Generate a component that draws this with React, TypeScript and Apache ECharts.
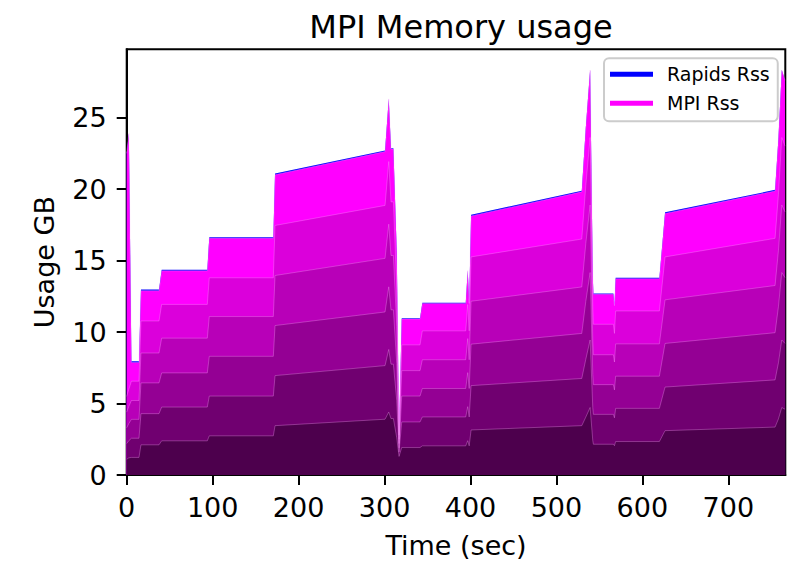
import React, { useEffect, useRef } from "react";
import * as echarts from "echarts";

// Time (sec) of each sample
const time = [
  0, 2.5, 5.5, 14.3, 16.6, 37.6, 40.7, 93.8, 96.1, 170.6, 172.6, 300.6, 304.9, 307.5, 310.3, 314.2,
  316.9, 320.0, 341.3, 344.0, 394.5, 396.8, 398.5, 400.7, 529.5, 534.2, 539.2, 542.3, 543.0, 566.3,
  567.5, 568.9, 619.8, 626.4, 754.4, 758.3, 762.2, 766,
];

// MPI Rss per rank (GB), stacked bottom to top
const mpiRank0 = [
  1.1, 1.2, 1.23, 1.23, 2.11, 2.11, 2.39, 2.39, 2.74, 2.74, 3.45, 3.9, 4.4, 3.95, 3.95, 2.6,
  1.3, 1.92, 1.92, 2.04, 2.04, 2.4, 2.04, 3.15, 3.45, 4.05, 4.72, 2.4, 2.15, 2.15,
  2.05, 2.34, 2.34, 3.1, 3.35, 3.92, 4.72, 4.6,
];
const mpiRank1 = [
  1.1, 1.2, 1.34, 1.34, 2.18, 2.18, 2.36, 2.36, 2.78, 2.78, 3.5, 3.75, 4.38, 3.8, 3.8, 2.6,
  0.3, 1.79, 1.79, 2.02, 2.02, 2.38, 2.02, 3.1, 3.3, 4.05, 4.72, 2.3, 2.09, 2.09,
  1.95, 2.32, 2.32, 3.05, 3.3, 3.92, 4.72, 4.6,
];
const mpiRank2 = [
  1.1, 1.2, 1.32, 1.32, 2.15, 2.15, 2.39, 2.39, 2.78, 2.78, 3.5, 3.75, 4.38, 3.8, 3.8, 2.6,
  0.3, 1.81, 1.81, 1.99, 1.99, 2.38, 1.99, 2.9, 3.15, 4.05, 4.72, 2.3, 2.08, 2.08,
  1.95, 2.25, 2.25, 3.05, 3.3, 3.92, 4.72, 4.6,
];
const mpiRank3 = [
  1.1, 1.2, 1.32, 1.32, 2.09, 2.09, 2.43, 2.43, 2.78, 2.78, 3.5, 3.75, 4.38, 3.8, 3.8, 2.6,
  0.3, 1.78, 1.78, 2.01, 2.01, 2.38, 2.01, 3.0, 3.25, 4.05, 4.72, 2.3, 2.09, 2.09,
  1.95, 2.26, 2.26, 3.05, 3.3, 3.92, 4.72, 4.6,
];
const mpiRank4 = [
  1.1, 1.2, 1.35, 1.35, 2.24, 2.24, 2.36, 2.36, 2.71, 2.71, 3.5, 3.7, 4.38, 3.75, 3.75, 2.6,
  0.3, 1.8, 1.8, 2.02, 2.02, 2.38, 2.02, 3.1, 3.35, 4.05, 4.72, 2.3, 2.13, 2.13,
  2.0, 2.3, 2.3, 3.0, 3.3, 3.92, 4.72, 4.6,
];
const mpiRank5 = [
  17.0, 17.9, 1.31, 1.31, 2.12, 2.12, 2.35, 2.35, 2.76, 2.76, 3.55, 3.77, 4.38, 3.7, 3.7, 2.6,
  0.3, 1.81, 1.81, 1.92, 1.92, 2.38, 1.92, 2.87, 3.3, 4.05, 4.72, 2.3, 2.1, 2.1,
  1.95, 2.26, 2.26, 3.04, 3.31, 3.92, 4.72, 4.6,
];
// Rapids Rss (GB), stacked on top
const rapidsRss = [
  0, 0, 0.08, 0.08, 0.08, 0.08, 0.08, 0.08, 0.08, 0.08, 0.08, 0.08, 0, 0.05, 0.05, 0,
  0, 0.05, 0.05, 0.05, 0.05, 0, 0.05, 0.08, 0.08, 0, 0, 0, 0.06, 0.06,
  0.05, 0.06, 0.06, 0.08, 0.08, 0, 0, 0,
];

const xTicks = [0, 100, 200, 300, 400, 500, 600, 700];
const yTicks = [0, 5, 10, 15, 20, 25];

const layers = [mpiRank0, mpiRank1, mpiRank2, mpiRank3, mpiRank4, mpiRank5, rapidsRss];
const layerNames = [
  "MPI Rss rank 0", "MPI Rss rank 1", "MPI Rss rank 2", "MPI Rss rank 3", "MPI Rss rank 4", "MPI Rss", "Rapids Rss",
];
const layerColors = ["#4d004d", "#700070", "#940094", "#b800b8", "#db00db", "#ff00ff", "#0000ff"];

const FONT = "DejaVu Sans";

export default function App() {
  const ref = useRef<HTMLDivElement>(null);

  useEffect(() => {
    if (!ref.current) return;
    const chart = echarts.init(ref.current, null, { renderer: "svg" });

    // cumulative stack (bottom to top)
    const cum: number[][] = [];
    layers.forEach((vals, k) => {
      cum.push(vals.map((v, i) => v + (k > 0 ? cum[k - 1][i] : 0)));
    });

    // draw top-most cumulative first so lower layers cover it
    const series: any[] = [];
    for (let k = layers.length - 1; k >= 0; k--) {
      const isRapids = k === layers.length - 1;
      series.push({
        name: layerNames[k],
        type: "line",
        showSymbol: false,
        symbol: "none",
        silent: true,
        data: time.map((t, i) => [t, cum[k][i]]),
        itemStyle: { color: layerColors[k] },
        lineStyle: isRapids
          ? { width: 0, opacity: 0 }
          : { color: "rgba(255,170,255,0.45)", width: 0.7 },
        areaStyle: { color: layerColors[k], opacity: 1, origin: "start" },
        emphasis: { disabled: true },
      });
    }

    chart.setOption({
      animation: false,
      backgroundColor: "#ffffff",
      textStyle: { fontFamily: FONT },
      title: {
        text: "MPI Memory usage",
        left: 456,
        top: 6,
        textAlign: "center",
        textStyle: { fontFamily: FONT, fontSize: 32, fontWeight: "normal", color: "#000" },
      },
      legend: {
        data: ["Rapids Rss", "MPI Rss"],
        orient: "vertical",
        left: 604,
        top: 58.3,
        padding: [6, 8, 8, 6],
        itemGap: 9,
        itemWidth: 43,
        itemHeight: 5,
        icon: "rect",
        selectedMode: false,
        borderColor: "#cccccc",
        borderWidth: 2,
        borderRadius: 5,
        backgroundColor: "rgba(255,255,255,0.8)",
        textStyle: { fontFamily: FONT, fontSize: 19, lineHeight: 20, color: "#000", padding: [0, 0, 0, 9] },
      },
      grid: {
        left: 126.7,
        right: 9.7,
        top: 49.3,
        bottom: 86.3,
        show: true,
        borderColor: "#000",
        borderWidth: 2,
        backgroundColor: "transparent",
      },
      xAxis: {
        type: "value",
        min: 0,
        max: 766.3,
        name: "Time (sec)",
        nameLocation: "middle",
        nameGap: 57,
        nameTextStyle: { fontFamily: FONT, fontSize: 27, color: "#000" },
        splitLine: { show: false },
        axisLine: { show: true, onZero: false, lineStyle: { color: "#000", width: 2 } },
        axisTick: { show: true, length: 10, lineStyle: { color: "#000", width: 2 }, customValues: xTicks },
        axisLabel: { fontFamily: FONT, fontSize: 27, color: "#000", margin: 19, customValues: xTicks },
      },
      yAxis: {
        type: "value",
        min: 0,
        max: 29.77,
        name: "Usage GB",
        nameLocation: "middle",
        nameGap: 69,
        nameTextStyle: { fontFamily: FONT, fontSize: 27, color: "#000" },
        splitLine: { show: false },
        axisLine: { show: true, onZero: false, lineStyle: { color: "#000", width: 2 } },
        axisTick: { show: true, length: 10, lineStyle: { color: "#000", width: 2 }, customValues: yTicks },
        axisLabel: { fontFamily: FONT, fontSize: 27, color: "#000", margin: 20, customValues: yTicks },
      },
      series,
    });

    return () => chart.dispose();
  }, []);

  return (
    <div
      ref={ref}
      style={{ position: "fixed", left: 0, top: 0, width: 795, height: 564, background: "#fff" }}
    />
  );
}
